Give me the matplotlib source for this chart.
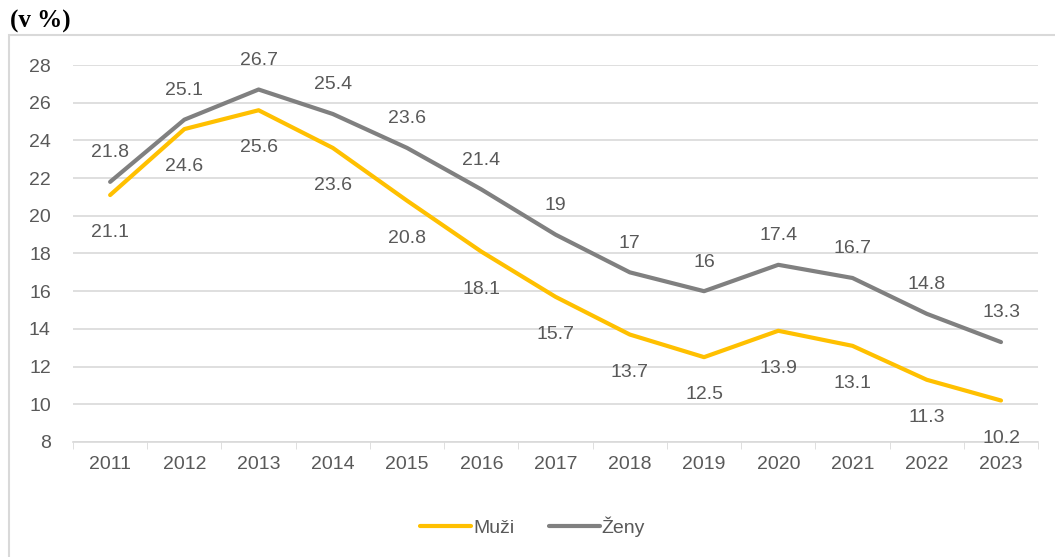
import matplotlib.pyplot as plt
from matplotlib.patches import Rectangle

roky = ['2011', '2012', '2013', '2014', '2015', '2016', '2017',
        '2018', '2019', '2020', '2021', '2022', '2023']
muzi = [21.1, 24.6, 25.6, 23.6, 20.8, 18.1, 15.7, 13.7, 12.5, 13.9, 13.1, 11.3, 10.2]
zeny = [21.8, 25.1, 26.7, 25.4, 23.6, 21.4, 19.0, 17.0, 16.0, 17.4, 16.7, 14.8, 13.3]

plt.rcParams['font.family'] = ['Liberation Sans', 'DejaVu Sans']
txt = '#595959'
fs = 14

fig = plt.figure(figsize=(10.55, 5.57), dpi=100)
ax = fig.add_axes([0.0692, 0.2065, 0.9148, 0.6768])

# ramecek okolo grafu
fig.patches.append(Rectangle((9 / 1055, -0.1), 1.2, 1 - 35 / 557 + 0.1,
                             transform=fig.transFigure, fill=False,
                             edgecolor='#D9D9D9', linewidth=1.5))

x = list(range(len(roky)))
ax.plot(x, muzi, color='#FFC000', linewidth=3, label='Muži', solid_capstyle='round')
ax.plot(x, zeny, color='#808080', linewidth=3, label='Ženy', solid_capstyle='round')

for i in x:
    ax.annotate(f'{zeny[i]:g}', xy=(i, zeny[i]), xytext=(0, 21), textcoords='offset points',
                ha='center', va='center', fontsize=fs, color=txt)
    ax.annotate(f'{muzi[i]:g}', xy=(i, muzi[i]), xytext=(0, -27), textcoords='offset points',
                ha='center', va='center', fontsize=fs, color=txt)

ax.set_xlim(-0.5, len(roky) - 0.5)
ax.set_ylim(8, 28)
ax.set_yticks(range(8, 29, 2))
ax.set_xticks(x)
ax.set_xticklabels(roky)
ax.set_xticks([i - 0.5 for i in range(len(roky) + 1)], minor=True)
ax.tick_params(axis='x', which='major', length=0, pad=10, labelsize=fs, labelcolor=txt)
ax.tick_params(axis='x', which='minor', length=5, color='#D9D9D9')
ax.tick_params(axis='y', length=0, pad=16, labelsize=fs, labelcolor=txt)
ax.grid(axis='y', color='#D9D9D9', linewidth=1.2)
ax.set_axisbelow(True)
for s in ['top', 'right', 'left']:
    ax.spines[s].set_visible(False)
ax.spines['bottom'].set_color('#D9D9D9')
ax.spines['bottom'].set_linewidth(1.2)

leg = fig.legend(loc='center', bbox_to_anchor=(0.505, 1 - 527 / 557), ncol=2, frameon=False,
                 fontsize=fs, handlelength=2.6, handletextpad=0.1, columnspacing=1.8)
for t in leg.get_texts():
    t.set_color(txt)

fig.text(10 / 1055, 1 - 21 / 557, '(v %)', fontsize=18, fontweight='bold',
         family='Liberation Serif', va='center', ha='left')

plt.savefig('out.png', dpi=100)
